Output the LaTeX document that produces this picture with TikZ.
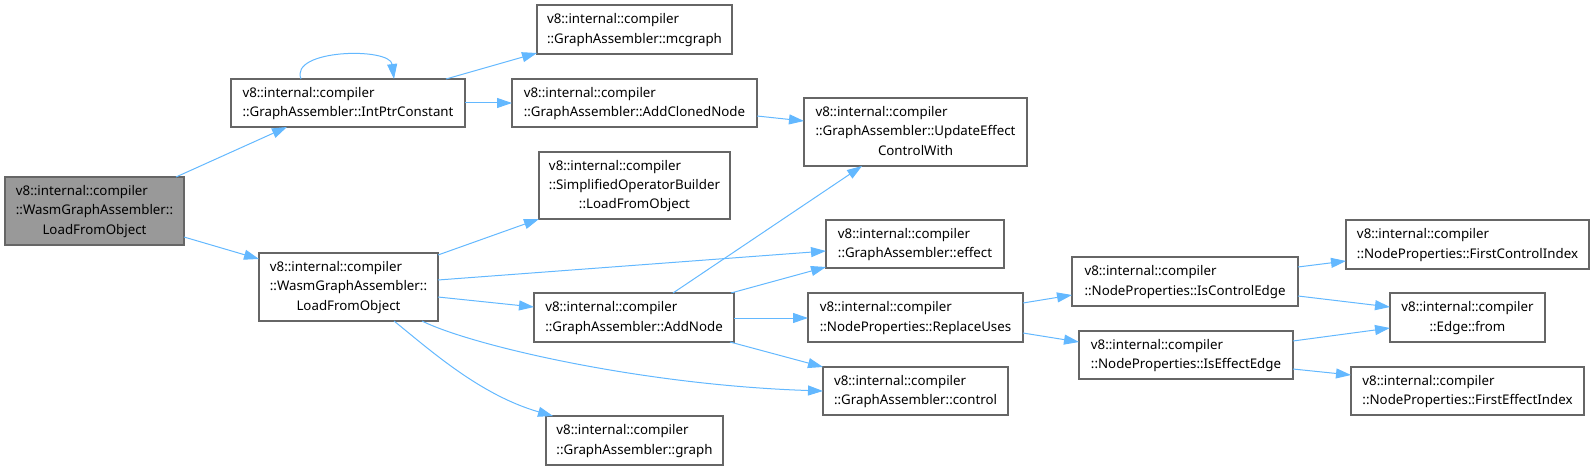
\documentclass[tikz,border=0pt]{standalone}
\usepackage{fontspec}
\setmainfont{Noto Sans}
\usetikzlibrary{arrows.meta,calc}
\definecolor{edgec}{HTML}{63B8FF}
\definecolor{boxc}{HTML}{666666}
\definecolor{mainc}{HTML}{999999}
\newcommand{\twol}[2]{\begin{tabular}{@{}l@{}}#1\\\multicolumn{1}{@{}c@{}}{#2}\end{tabular}}
\newcommand{\threel}[3]{\begin{tabular}{@{}l@{}}#1\\#2\\\multicolumn{1}{@{}c@{}}{#3}\end{tabular}}
\tikzset{
  box/.style={draw=boxc, line width=1.2pt, fill=white, inner sep=0pt, outer sep=0pt, anchor=north west,
    font=\fontsize{13.3}{19.3}\selectfont},
  mainbox/.style={box, fill=mainc},
  edge/.style={draw=edgec, line width=1pt, -{Triangle[length=15pt,width=10pt]}, edgec},
}
\newcommand{\bx}[7][box]{\node[#1, minimum width=#5-#3, minimum height=#6-#4] (#2) at (#3,#4) {#7};}
\begin{document}
\begin{tikzpicture}[x=1pt,y=-1pt]
\useasboundingbox (0,0) rectangle (1595,470);
\bx[mainbox]{main}{5}{177}{184}{245}{\threel{v8::internal::compiler}{::WasmGraphAssembler::}{LoadFromObject}}
\bx{ip}{231}{79}{465}{127}{\twol{v8::internal::compiler}{::GraphAssembler::IntPtrConstant}}
\bx{wl}{259}{253}{438}{321}{\threel{v8::internal::compiler}{::WasmGraphAssembler::}{LoadFromObject}}
\bx{mc}{537}{5}{732}{54}{\twol{v8::internal::compiler}{::GraphAssembler::mcgraph}}
\bx{acn}{512}{79}{757}{127}{\twol{v8::internal::compiler}{::GraphAssembler::AddClonedNode}}
\bx{uec}{804}{98}{1027}{166}{\threel{v8::internal::compiler}{::GraphAssembler::UpdateEffect}{ControlWith}}
\bx{sob}{539}{152}{730}{219}{\threel{v8::internal::compiler}{::SimplifiedOperatorBuilder}{::LoadFromObject}}
\bx{eff}{826}{220}{1004}{268}{\twol{v8::internal::compiler}{::GraphAssembler::effect}}
\bx{an}{534}{293}{734}{342}{\twol{v8::internal::compiler}{::GraphAssembler::AddNode}}
\bx{ru}{808}{293}{1023}{342}{\twol{v8::internal::compiler}{::NodeProperties::ReplaceUses}}
\bx{ctl}{823}{367}{1008}{415}{\twol{v8::internal::compiler}{::GraphAssembler::control}}
\bx{gr}{546}{416}{723}{465}{\twol{v8::internal::compiler}{::GraphAssembler::graph}}
\bx{fci}{1346}{220}{1589}{269}{\twol{v8::internal::compiler}{::NodeProperties::FirstControlIndex}}
\bx{ice}{1072}{257}{1298}{306}{\twol{v8::internal::compiler}{::NodeProperties::IsControlEdge}}
\bx{ef}{1390}{293}{1545}{342}{\twol{v8::internal::compiler}{::Edge::from}}
\bx{iee}{1079}{331}{1293}{379}{\twol{v8::internal::compiler}{::NodeProperties::IsEffectEdge}}
\bx{fei}{1351}{367}{1584}{415}{\twol{v8::internal::compiler}{::NodeProperties::FirstEffectIndex}}
% edges
\draw[edge] ([xshift=171pt]main.north west) -- ([xshift=56pt]ip.south west);
\draw[edge] ([yshift=-60pt]main.north east) -- ([yshift=-6pt]wl.north west);
\draw[edge] ([xshift=70pt]ip.north west) .. controls +(-12,-30) and +(-4,-32) .. ([xshift=163pt]ip.north west);
\draw[edge] ([xshift=-19pt]ip.north east) -- ([yshift=1pt]mc.south west);
\draw[edge] ([yshift=-24pt]ip.north east) -- ([yshift=-24pt]acn.north west);
\draw[edge] ([yshift=-37pt]acn.north east) -- ([yshift=-23pt]uec.north west);
\draw[edge] ([yshift=-2pt]wl.north east) -- (sob.south west);
\draw[edge] ([yshift=-27pt]wl.north east) -- ([yshift=-31pt]eff.north west);
\draw[edge] ([yshift=-44pt]wl.north east) -- ([yshift=-14pt]an.north west);
\draw[edge] ([xshift=-16pt]wl.south east) .. controls (470,345) and (640,385) .. ([yshift=-24pt]ctl.north west);
\draw[edge] ([xshift=135pt]wl.south west) .. controls (430,350) and (480,395) .. ([xshift=7pt]gr.north west);
\draw[edge] ([xshift=139pt]an.north west) -- ([xshift=58pt]uec.south west);
\draw[edge] ([xshift=-3pt]an.north east) -- ([yshift=1pt]eff.south west);
\draw[edge] ([yshift=-25pt]an.north east) -- ([yshift=-25pt]ru.north west);
\draw[edge] ([xshift=-4pt]an.south east) -- (ctl.north west);
\draw[edge] ([yshift=-10pt]ru.north east) -- ([yshift=-38pt]ice.north west);
\draw[edge] ([yshift=-40pt]ru.north east) -- ([yshift=-11pt]iee.north west);
\draw[edge] ([yshift=-10pt]ice.north east) -- ([yshift=-41pt]fci.north west);
\draw[edge] ([yshift=-39pt]ice.north east) -- ([yshift=-14pt]ef.north west);
\draw[edge] ([yshift=-10pt]iee.north east) -- ([yshift=-35pt]ef.north west);
\draw[edge] ([yshift=-38pt]iee.north east) -- ([yshift=-8pt]fei.north west);
\end{tikzpicture}
\end{document}
